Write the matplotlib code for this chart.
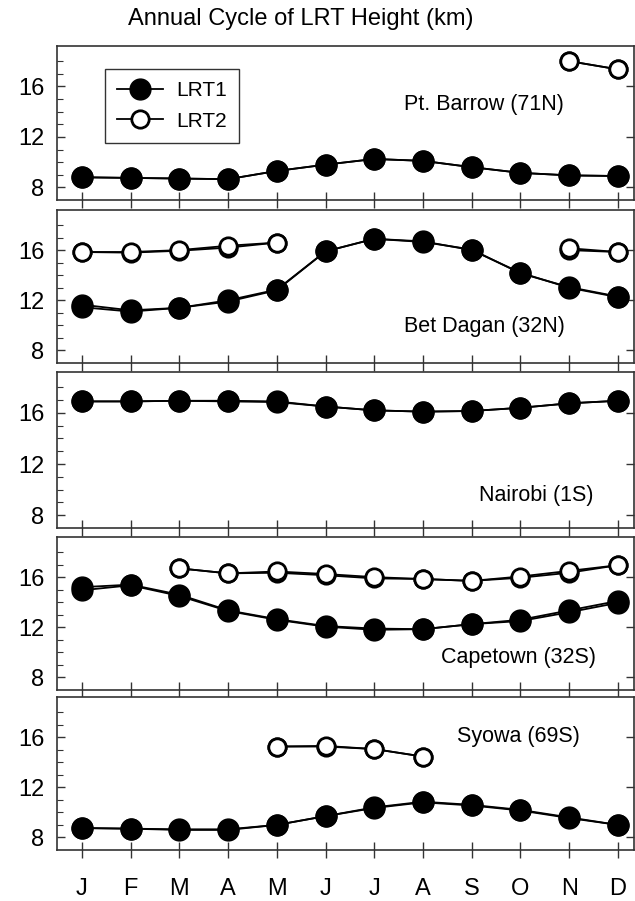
import numpy as np
import matplotlib.pyplot as plt

plt.rcParams['font.family'] = ['Liberation Sans', 'DejaVu Sans']

# monthly mean lapse-rate tropopause heights (km)
months = ["J", "F", "M", "A", "M", "J", "J", "A", "S", "O", "N", "D"]
month_idx = np.arange(1, 13)

stations = ["Pt. Barrow (71N)", "Bet Dagan (32N)", "Nairobi (1S)",
            "Capetown (32S)", "Syowa (69S)"]

# first tropopause, two overlapping estimates per station
barrow_lrt1 = [8.8, 8.75, 8.7, 8.65, 9.3, 9.8, 10.25, 10.1, 9.6, 9.15, 8.95, 8.9]
barrow_lrt1_b = [8.8, 8.75, 8.7, 8.65, 9.3, 9.8, 10.25, 10.1, 9.6, 9.15, 8.95, 8.9]
dagan_lrt1 = [11.45, 11.1, 11.4, 11.9, 12.8, 15.9, 16.9, 16.7, 16.0, 14.2, 13.0, 12.25]
dagan_lrt1_b = [11.65, 11.2, 11.4, 12.0, 12.85, 15.9, 16.9, 16.65, 16.05, 14.15, 13.05, 12.3]
nairobi_lrt1 = [16.9, 16.9, 16.95, 16.9, 16.85, 16.5, 16.2, 16.1, 16.15, 16.4, 16.75, 16.95]
nairobi_lrt1_b = [16.9, 16.9, 16.95, 16.95, 16.9, 16.5, 16.2, 16.1, 16.15, 16.4, 16.75, 16.95]
capetown_lrt1 = [14.95, 15.35, 14.5, 13.3, 12.6, 12.05, 11.8, 11.85, 12.25, 12.5, 13.2, 13.95]
capetown_lrt1_b = [15.2, 15.4, 14.6, 13.35, 12.65, 12.1, 11.9, 11.85, 12.25, 12.6, 13.35, 14.1]
syowa_lrt1 = [8.75, 8.7, 8.6, 8.6, 9.0, 9.7, 10.35, 10.8, 10.55, 10.15, 9.55, 9.0]
syowa_lrt1_b = [8.75, 8.7, 8.65, 8.65, 9.0, 9.7, 10.4, 10.85, 10.6, 10.2, 9.6, 9.0]

# second tropopause (nan where absent)
nan = np.nan
barrow_lrt2 = [nan] * 10 + [18.0, 17.35]
barrow_lrt2_b = [nan] * 10 + [18.0, 17.35]
dagan_lrt2 = [15.85, 15.8, 15.95, 16.2, 16.6, nan, nan, nan, nan, nan, 16.0, 15.85]
dagan_lrt2_b = [15.85, 15.85, 16.0, 16.35, 16.6, nan, nan, nan, nan, nan, 16.15, 15.85]
nairobi_lrt2 = [nan] * 12
nairobi_lrt2_b = [nan] * 12
capetown_lrt2 = [nan, nan, 16.7, 16.3, 16.35, 16.15, 15.9, 15.85, 15.7, 15.95, 16.35, 16.95]
capetown_lrt2_b = [nan, nan, 16.7, 16.3, 16.45, 16.25, 16.0, 15.85, 15.7, 16.05, 16.5, 16.95]
syowa_lrt2 = [nan, nan, nan, nan, 15.25, 15.25, 15.05, 14.45, nan, nan, nan, nan]
syowa_lrt2_b = [nan, nan, nan, nan, 15.25, 15.3, 15.05, 14.45, nan, nan, nan, nan]

lrt1 = [(barrow_lrt1, barrow_lrt1_b), (dagan_lrt1, dagan_lrt1_b),
        (nairobi_lrt1, nairobi_lrt1_b), (capetown_lrt1, capetown_lrt1_b),
        (syowa_lrt1, syowa_lrt1_b)]
lrt2 = [(barrow_lrt2, barrow_lrt2_b), (dagan_lrt2, dagan_lrt2_b),
        (nairobi_lrt2, nairobi_lrt2_b), (capetown_lrt2, capetown_lrt2_b),
        (syowa_lrt2, syowa_lrt2_b)]

# label placement inside each panel (axes fraction)
label_pos = [(0.74, 0.62), (0.74, 0.24), (0.83, 0.21), (0.80, 0.21), (0.80, 0.74)]

# panel extents in pixels (top, bottom)
W, H = 635, 901
panels_px = [(46, 200), (210, 363), (372, 528), (537, 690), (697, 850)]
left_px, right_px = 57, 634

fig = plt.figure(figsize=(W / 100, H / 100), dpi=100)
fig.text(0.473, 0.979, "Annual Cycle of LRT Height (km)", ha="center", va="center", fontsize=17)

for i, (top, bot) in enumerate(panels_px):
    ax = fig.add_axes([left_px / W, 1 - bot / H, (right_px - left_px) / W, (bot - top) / H])
    for y in lrt1[i]:
        ax.plot(month_idx, y, color="black", lw=1.3, marker="o", ms=15,
                mfc="black", mec="black", zorder=3)
    for y in lrt2[i]:
        ax.plot(month_idx, y, color="black", lw=1.3, marker="o", ms=12.5,
                mfc="white", mec="black", mew=2, zorder=3)
    ax.set_xlim(0.49, 12.33)
    ax.set_ylim(7, 19.2)
    ax.set_yticks([8, 12, 16])
    ax.set_yticks(np.arange(8, 19), minor=True)
    ax.set_xticks(month_idx)
    ax.tick_params(axis="y", which="major", direction="in", length=6, width=1,
                   right=True, labelsize=17, pad=9, color="#333333")
    ax.tick_params(axis="y", which="minor", direction="in", length=4, width=0.8,
                   color="#333333")
    ax.tick_params(axis="x", direction="inout", length=12, width=1, color="#333333")
    if i == len(panels_px) - 1:
        ax.set_xticklabels(months, fontsize=17)
        ax.tick_params(axis="x", pad=14)
    else:
        ax.set_xticklabels([])
    for s in ax.spines.values():
        s.set_color("#333333")
        s.set_linewidth(1.2)
    ax.text(label_pos[i][0], label_pos[i][1], stations[i], transform=ax.transAxes,
            ha="center", va="center", fontsize=15.5)
    if i == 0:
        h1, = ax.plot([], [], color="black", lw=1.3, marker="o", ms=15,
                      mfc="black", mec="black")
        h2, = ax.plot([], [], color="black", lw=1.3, marker="o", ms=12.5,
                      mfc="white", mec="black", mew=2)
        leg = ax.legend([h1, h2], ["LRT1", "LRT2"], loc="upper left",
                        bbox_to_anchor=(0.065, 0.92), fontsize=15, frameon=True,
                        fancybox=False, edgecolor="black", handlelength=2.2,
                        borderpad=0.6, labelspacing=0.55, handletextpad=0.6)
        leg.get_frame().set_linewidth(1.0)

fig.savefig("out.png", dpi=100)
